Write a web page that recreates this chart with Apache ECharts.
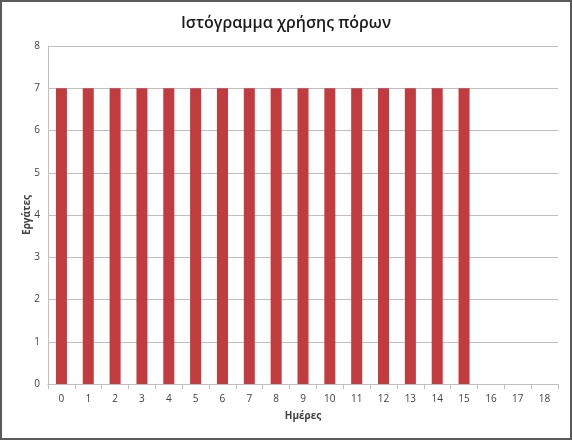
<!DOCTYPE html>
<html><head><meta charset="utf-8">
<script src="https://cdn.jsdelivr.net/npm/echarts@6/dist/echarts.min.js"></script>
<style>html,body{margin:0;padding:0;background:#fff;}#c{width:568px;height:436px;border:2px solid #5a5a5a;}</style>
</head><body><div id="c"></div>
<script>
const categories = ['0','1','2','3','4','5','6','7','8','9','10','11','12','13','14','15','16','17','18'];
const workers = [7,7,7,7,7,7,7,7,7,7,7,7,7,7,7,7,0,0,0];
const title = 'Ιστόγραμμα χρήσης πόρων';
const xName = 'Ημέρες';
const yName = 'Εργάτες';
const chart = echarts.init(document.getElementById('c'));
const font = '"Open Sans", "DejaVu Sans", sans-serif';
chart.setOption({
  animation:false,
  title:{text:title,left:'center',top:8,textStyle:{fontFamily:font,fontSize:16,fontWeight:600,color:'#1a1a1a'}},
  grid:{left:46,right:12,top:44,bottom:54},
  xAxis:{type:'category',data:categories,name:xName,nameLocation:'middle',nameGap:27,nameMoveOverlap:false,
    nameTextStyle:{fontFamily:font,fontSize:10,fontWeight:'bold',color:'#404040'},
    axisLine:{lineStyle:{color:'#bfbfbf'}},axisTick:{show:true,alignWithLabel:false,lineStyle:{color:'#bfbfbf'}},
    axisLabel:{fontFamily:font,fontSize:10,color:'#404040',margin:10}},
  yAxis:{type:'value',min:0,max:8,interval:1,name:yName,nameLocation:'middle',nameGap:16,nameMoveOverlap:false,
    nameTextStyle:{fontFamily:font,fontSize:10,fontWeight:'bold',color:'#404040'},
    axisLine:{show:true,lineStyle:{color:'#bfbfbf'}},axisTick:{show:false},
    axisLabel:{fontFamily:font,fontSize:10,color:'#404040',margin:8},
    splitLine:{lineStyle:{color:'#bfbfbf'}}},
  series:[{type:'bar',data:workers,barWidth:11,itemStyle:{color:'#c23b3f'}}]
});
</script></body></html>
